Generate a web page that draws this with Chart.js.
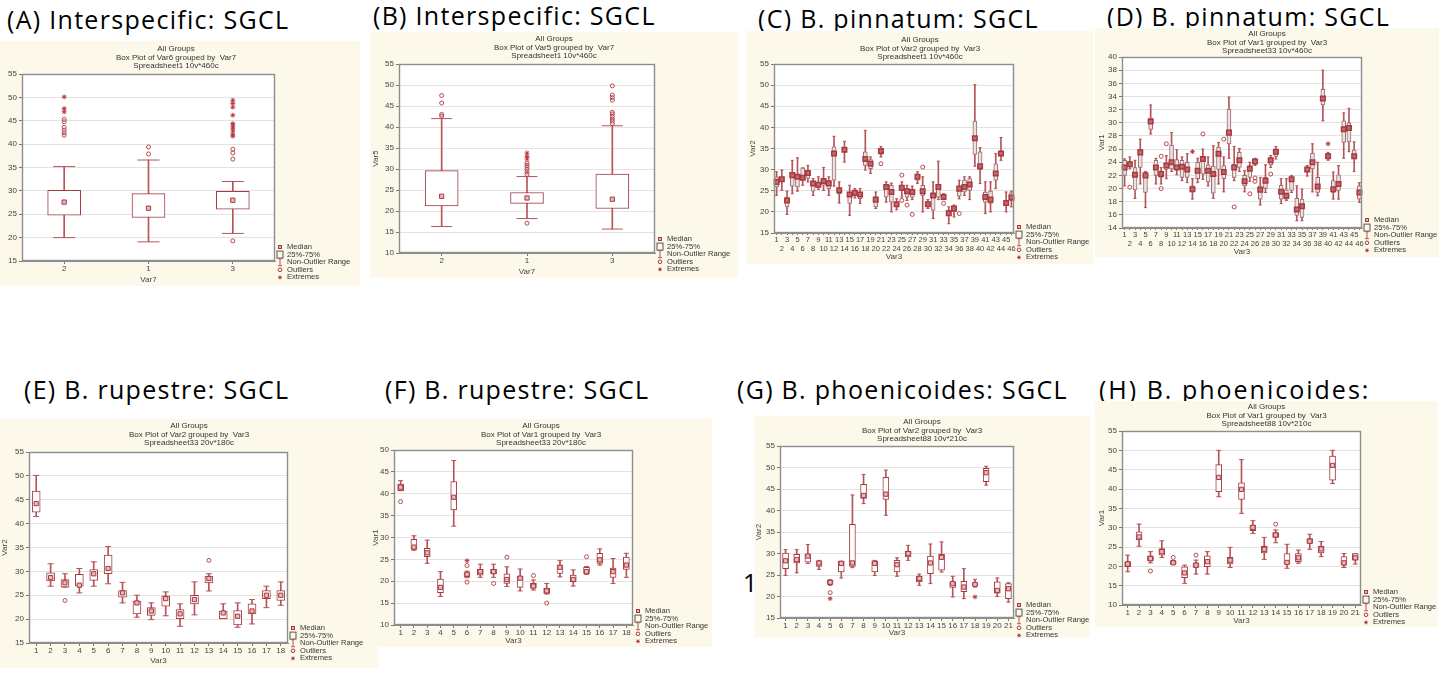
<!DOCTYPE html>
<html>
<head>
<meta charset="utf-8">
<title>SGCL box plots</title>
<script src="https://cdn.jsdelivr.net/npm/chart.js@4.4.1/dist/chart.umd.min.js"></script>
<style>
  body { margin: 0; width: 1439px; height: 675px; overflow: hidden; position: relative; background: #fff; }
  .head { position: absolute; font-family: "Open Sans", Lato, sans-serif; font-size: 25px; line-height: 25px;
          letter-spacing: 1.3px; color: #000; white-space: nowrap; }
  canvas { position: absolute; }
</style>
</head>
<body>
<div class="head" style="left:7px;top:7px">(A) Interspecific: SGCL</div>
<div class="head" style="left:373px;top:3px">(B) Interspecific: SGCL</div>
<div class="head" style="left:758px;top:6px">(C) B. pinnatum: SGCL</div>
<div class="head" style="left:1107px;top:4px">(D) B. pinnatum: SGCL</div>
<div class="head" style="left:24px;top:377px">(E) B. rupestre: SGCL</div>
<div class="head" style="left:385px;top:377px">(F) B. rupestre: SGCL</div>
<div class="head" style="left:737px;top:377px">(G) B. phoenicoides: SGCL</div>
<div class="head" style="left:1099px;top:377px;letter-spacing:2px">(H) B. phoenicoides:</div>
<div class="head" style="left:743px;top:570px">1</div>

<script>
// ---- (A) Var6 by Var7 ----
const aCats = ['2', '1', '3'];
const aLo  = [20.0, 19.1, 20.9];
const aQ1  = [24.8, 24.3, 26.1];
const aMed = [27.6, 26.3, 28.0];
const aQ3  = [30.1, 29.4, 29.9];
const aHi  = [35.2, 36.6, 32.0];
const aOut = [['2', 45.3], ['2', 44.8], ['2', 43.6], ['2', 43.0], ['2', 42.4], ['2', 41.9],
              ['1', 39.4], ['1', 37.9], ['3', 38.9], ['3', 38.1], ['3', 36.8], ['3', 19.3]];
const aExt = [['2', 50.1], ['2', 47.6], ['2', 46.9], ['3', 49.4], ['3', 48.7], ['3', 47.9], ['3', 46.2],
              ['3', 44.4], ['3', 43.9], ['3', 43.4], ['3', 42.8], ['3', 42.1], ['3', 41.7]];
const aTicks = [15, 20, 25, 30, 35, 40, 45, 50, 55];

// ---- (B) Var5 by Var7 ----
const bCats = ['2', '1', '3'];
const bLo  = [16.3, 18.2, 15.7];
const bQ1  = [21.2, 21.8, 20.6];
const bMed = [23.5, 23.1, 22.8];
const bQ3  = [29.6, 24.4, 28.8];
const bHi  = [42.0, 28.2, 40.3];
const bOut = [['2', 47.5], ['2', 45.7], ['2', 43.0], ['2', 42.6], ['1', 17.1], ['1', 28.7], ['1', 29.3],
              ['1', 29.9], ['1', 30.4], ['1', 30.9], ['1', 31.4], ['3', 49.8], ['3', 47.6], ['3', 47.0],
              ['3', 46.4], ['3', 43.5], ['3', 43.1], ['3', 42.5], ['3', 41.9], ['3', 41.4], ['3', 40.8]];
const bExt = [['1', 32.4], ['1', 33.0], ['1', 33.8]];
const bTicks = [10, 15, 20, 25, 30, 35, 40, 45, 50, 55];

// ---- (C) B. pinnatum Var2 by Var3 ----
const cCats = Array.from({ length: 46 }, (_, i) => String(i + 1));
const cLo  = [23.9, 25.1, 19.4, 24.3, 24.9, 26.3, 27.1, 23.9, 25.3, 25.1, 23.9, 26.1, 22.1, 31.8, 19.2, 23.3,
              22.0, 29.9, 29.1, 20.8, 33.0, 22.3, 20.0, 20.5, 23.5, 22.7, 22.9, 26.7, 20.0, 20.8, 18.4, 22.9,
              22.9, 17.2, 18.8, 23.1, 23.9, 22.9, 30.8, 26.7, 19.6, 20.0, 25.5, 32.2, 20.0, 21.2];
const cQ1  = [25.9, 27.3, 21.2, 26.1, 25.9, 27.5, 27.9, 24.9, 25.9, 26.3, 25.5, 27.5, 24.3, 34.2, 22.0, 23.9,
              23.1, 31.0, 30.2, 21.2, 33.6, 23.5, 22.3, 21.2, 25.1, 23.5, 23.5, 27.5, 23.9, 21.2, 20.4, 23.5,
              23.1, 19.2, 20.0, 23.7, 24.7, 25.1, 33.6, 30.0, 22.3, 22.0, 27.5, 33.2, 21.6, 22.7];
const cMed = [27.1, 27.7, 22.7, 28.7, 28.3, 28.1, 29.2, 26.7, 26.4, 27.3, 26.7, 33.8, 25.1, 34.7, 24.1, 24.5,
              24.1, 32.5, 31.4, 22.9, 34.4, 25.9, 24.7, 21.8, 25.7, 24.9, 24.7, 28.3, 24.9, 21.8, 23.9, 25.9,
              23.5, 19.7, 20.8, 25.5, 25.9, 26.5, 37.4, 30.8, 23.5, 22.9, 29.1, 33.8, 22.1, 23.4];
const cQ3  = [28.3, 28.3, 23.5, 29.1, 28.7, 30.4, 29.8, 27.3, 26.8, 27.9, 27.5, 35.4, 25.7, 35.2, 24.5, 24.9,
              24.7, 34.2, 32.4, 23.5, 34.7, 26.3, 26.3, 22.3, 26.3, 25.5, 25.3, 28.7, 26.3, 22.3, 24.3, 26.3,
              23.9, 20.4, 21.2, 25.9, 27.5, 27.9, 41.5, 34.2, 24.7, 24.9, 31.4, 34.2, 22.6, 24.5];
const cHi  = [29.5, 29.9, 24.9, 32.2, 32.8, 30.4, 31.0, 27.9, 28.3, 30.5, 28.3, 37.9, 27.1, 36.7, 26.3, 25.5,
              25.5, 39.3, 33.0, 24.7, 35.5, 27.1, 26.8, 23.1, 27.1, 26.3, 26.1, 29.5, 28.3, 22.9, 27.1, 32.0,
              24.3, 21.2, 21.6, 27.5, 28.3, 28.3, 50.1, 35.2, 27.1, 27.1, 33.8, 37.6, 24.7, 24.9];
const cOut = [['21', 31.4], ['25', 28.7], ['25', 22.7], ['26', 21.6], ['27', 19.4], ['29', 30.6], ['33', 22.0], ['36', 19.6]];
const cExt = [];
const cTicks = [15, 20, 25, 30, 35, 40, 45, 50, 55];

// ---- (D) B. pinnatum Var1 by Var3 ----
const dCats = Array.from({ length: 46 }, (_, i) => String(i + 1));
const dLo  = [20.4, 23.0, 18.5, 20.7, 17.1, 28.3, 20.7, 20.7, 21.5, 22.6, 22.1, 21.2, 20.9, 18.4, 20.9, 21.4,
              20.4, 18.5, 20.7, 19.5, 24.6, 21.2, 22.6, 19.5, 21.1, 23.5, 17.5, 19.4, 23.2, 24.5, 17.7, 18.2,
              19.4, 15.1, 15.1, 21.9, 19.5, 18.9, 30.3, 24.3, 18.4, 18.4, 24.6, 25.6, 22.6, 17.9];
const dQ1  = [22.0, 23.4, 19.8, 23.2, 19.4, 29.0, 22.0, 21.7, 22.9, 23.0, 23.0, 21.7, 21.7, 19.5, 21.5, 22.2,
              21.0, 19.3, 22.9, 21.5, 26.8, 21.7, 23.2, 20.4, 21.7, 23.7, 18.4, 20.0, 23.6, 24.9, 18.4, 18.4,
              19.7, 15.9, 15.6, 22.5, 23.0, 19.4, 32.7, 24.6, 19.4, 19.7, 27.0, 27.1, 24.5, 18.4];
const dMed = [23.2, 23.7, 22.1, 25.5, 22.0, 30.2, 23.2, 22.2, 23.5, 24.0, 23.2, 23.3, 22.9, 19.9, 22.7, 24.5,
              22.7, 22.2, 25.3, 22.5, 28.5, 23.2, 24.3, 21.1, 23.0, 24.1, 19.8, 21.2, 24.3, 25.6, 19.5, 18.9,
              21.4, 16.8, 17.3, 22.9, 24.0, 20.3, 33.7, 24.9, 19.9, 20.7, 29.0, 29.2, 24.9, 19.4];
const dQ3  = [24.3, 24.1, 23.2, 25.9, 22.2, 30.7, 24.3, 22.7, 23.8, 26.6, 24.4, 24.3, 24.0, 20.4, 24.0, 24.6,
              23.6, 23.4, 26.3, 23.5, 32.1, 23.7, 25.5, 22.0, 23.5, 24.4, 20.4, 21.7, 24.6, 25.9, 20.5, 19.8,
              21.7, 18.5, 18.4, 23.2, 25.4, 21.7, 35.1, 25.3, 21.2, 22.1, 30.3, 30.0, 25.9, 20.4];
const dHi  = [24.5, 24.8, 24.3, 27.5, 22.6, 32.7, 24.6, 23.2, 25.0, 28.5, 25.9, 24.8, 25.3, 21.5, 24.6, 26.0,
              24.8, 26.5, 27.0, 24.8, 33.9, 26.4, 26.1, 22.7, 24.0, 24.6, 21.7, 23.6, 25.0, 26.4, 21.5, 21.5,
              22.0, 20.4, 19.9, 23.5, 26.8, 24.0, 38.0, 25.5, 22.5, 23.5, 31.5, 32.2, 27.1, 20.9];
const dOut = [['2', 20.2], ['8', 24.9], ['8', 20.0], ['9', 26.8], ['16', 28.3], ['20', 27.5], ['22', 17.2],
              ['25', 19.2], ['26', 21.6], ['26', 21.1], ['29', 22.2]];
const dExt = [['14', 25.6], ['40', 26.8]];
const dTicks = [14, 16, 18, 20, 22, 24, 26, 28, 30, 32, 34, 36, 38, 40];

// ---- (E) B. rupestre Var2 by Var3 ----
const eCats = Array.from({ length: 18 }, (_, i) => String(i + 1));
const eLo  = [41.5, 26.9, 26.7, 25.5, 26.9, 27.4, 23.4, 20.4, 19.9, 20.7, 18.5, 20.9, 25.9, 20.1, 18.3, 19.0, 22.4, 22.9];
const eQ1  = [42.4, 28.0, 26.7, 26.9, 28.1, 29.5, 24.6, 21.1, 20.8, 22.7, 20.1, 23.2, 27.6, 20.1, 18.8, 21.1, 24.3, 23.9];
const eMed = [44.2, 28.7, 27.6, 27.1, 29.5, 30.6, 25.5, 23.4, 21.7, 24.3, 21.1, 24.1, 28.5, 21.3, 20.6, 21.7, 25.0, 25.0];
const eQ3  = [46.8, 29.7, 28.3, 29.4, 30.4, 33.4, 26.0, 23.8, 22.4, 24.9, 22.0, 25.0, 29.0, 21.7, 21.8, 23.2, 26.0, 26.0];
const eHi  = [50.1, 31.6, 29.5, 30.6, 32.0, 35.2, 27.7, 25.0, 23.4, 25.7, 23.2, 27.8, 29.5, 23.2, 23.4, 24.1, 26.9, 27.8];
const eOut = [['3', 23.9], ['13', 32.3]];
const eExt = [];
const eTicks = [15, 20, 25, 30, 35, 40, 45, 50, 55];

// ---- (F) B. rupestre Var1 by Var3 ----
const fCats = Array.from({ length: 18 }, (_, i) => String(i + 1));
const fLo  = [40.7, 27.1, 24.1, 16.5, 32.6, 20.8, 20.9, 20.9, 18.8, 17.8, 18.0, 17.1, 21.0, 18.9, 21.6, 23.7, 19.5, 20.9];
const fQ1  = [40.7, 27.3, 25.6, 17.4, 36.3, 21.0, 21.4, 21.7, 19.5, 18.6, 18.4, 17.2, 21.8, 19.9, 21.8, 24.1, 20.9, 22.7];
const fMed = [41.5, 27.8, 26.5, 18.6, 39.2, 21.6, 22.2, 22.2, 20.4, 20.7, 18.9, 17.8, 23.2, 20.4, 22.2, 24.9, 22.2, 23.7];
const fQ3  = [42.2, 29.6, 27.5, 20.5, 42.8, 22.0, 22.7, 22.7, 21.7, 21.2, 19.5, 18.4, 23.7, 21.4, 23.2, 26.4, 23.0, 25.5];
const fHi  = [43.0, 30.4, 29.4, 22.2, 47.6, 22.3, 23.9, 23.9, 23.3, 22.8, 20.3, 19.5, 24.7, 22.6, 23.4, 27.4, 25.2, 26.4];
const fOut = [['1', 38.2], ['6', 23.6], ['6', 19.8], ['8', 19.5], ['9', 25.5], ['11', 21.3], ['12', 15.0], ['15', 25.6]];
const fExt = [['6', 24.7]];
const fTicks = [10, 15, 20, 25, 30, 35, 40, 45, 50];

// ---- (G) B. phoenicoides Var2 by Var3 ----
const gCats = Array.from({ length: 21 }, (_, i) => String(i + 1));
const gLo  = [24.9, 25.5, 27.7, 26.3, 22.6, 24.3, 26.7, 41.6, 24.9, 38.9, 24.7, 28.4, 22.6, 23.0, 25.7, 19.9, 19.5, 22.2, 45.9, 20.0, 18.7];
const gQ1  = [26.5, 27.8, 28.0, 27.0, 22.8, 25.7, 27.0, 42.8, 25.7, 42.6, 25.7, 29.2, 23.4, 25.3, 26.1, 22.1, 21.1, 22.5, 46.7, 20.8, 19.5];
const gMed = [28.3, 28.6, 29.4, 27.8, 23.3, 27.7, 27.8, 43.5, 27.7, 43.8, 27.4, 30.0, 24.2, 27.8, 29.1, 23.0, 22.2, 22.8, 48.8, 21.4, 21.8];
const gQ3  = [30.1, 29.8, 29.8, 28.3, 23.8, 28.2, 36.8, 46.1, 28.3, 47.7, 28.4, 30.5, 24.7, 29.4, 29.8, 23.4, 23.5, 23.2, 49.8, 23.4, 23.0];
const gHi  = [30.9, 30.9, 32.1, 28.4, 23.9, 28.2, 43.6, 48.4, 28.4, 49.4, 29.0, 31.9, 25.2, 32.2, 32.7, 24.7, 26.5, 24.0, 50.3, 24.3, 23.2];
const gOut = [['5', 20.9]];
const gExt = [['5', 19.5], ['18', 19.9]];
const gTicks = [15, 20, 25, 30, 35, 40, 45, 50, 55];

// ---- (H) B. phoenicoides Var1 by Var3 ----
const hCats = Array.from({ length: 21 }, (_, i) => String(i + 1));
const hLo  = [18.6, 25.2, 20.9, 22.3, 20.5, 15.6, 18.0, 18.0, 38.0, 19.7, 33.7, 28.5, 21.8, 26.1, 19.5, 20.8, 24.4, 22.5, 41.4, 19.7, 20.6];
const hQ1  = [19.9, 26.8, 21.4, 22.9, 20.6, 17.1, 19.7, 19.9, 39.3, 20.6, 37.3, 29.2, 23.5, 27.5, 20.6, 21.2, 25.9, 23.5, 42.3, 20.3, 21.6];
const hMed = [20.6, 27.6, 22.0, 23.8, 20.9, 18.3, 20.3, 21.2, 43.0, 21.6, 39.9, 30.1, 24.4, 28.1, 21.0, 22.2, 26.5, 24.5, 46.1, 20.9, 22.2];
const hQ3  = [21.2, 28.9, 22.7, 24.6, 21.4, 19.9, 20.9, 22.7, 46.3, 22.3, 41.6, 30.7, 25.2, 28.7, 23.3, 23.3, 27.2, 25.2, 48.5, 22.5, 23.3];
const hHi  = [22.9, 30.9, 23.8, 26.6, 21.5, 20.3, 21.6, 23.8, 50.0, 24.9, 47.6, 31.8, 27.5, 29.4, 25.7, 24.2, 28.3, 26.4, 50.0, 23.3, 23.3];
const hOut = [['3', 18.8], ['5', 22.3], ['7', 22.9], ['14', 30.9]];
const hExt = [];
const hTicks = [10, 15, 20, 25, 30, 35, 40, 45, 50, 55];

const FONT = '"Liberation Sans", Arial, sans-serif';
const RED = '#a53a40';
const WHISKER = '#b5555b';
const CREAM = '#fcf8ea';
const KEYS = ['Median', '25%-75%', 'Non-Outlier Range', 'Outliers', 'Extremes'];

Chart.defaults.font.family = FONT;

// cream page, white plot area, grey frame and the key on the right
const frameAndKey = {
  id: 'frameAndKey',
  beforeDraw(chart) {
    const { ctx, chartArea: a } = chart;
    ctx.save();
    ctx.fillStyle = CREAM;
    ctx.fillRect(0, 0, chart.width, chart.height);
    ctx.fillStyle = '#fff';
    ctx.fillRect(a.left, a.top, a.right - a.left, a.bottom - a.top);
    ctx.restore();
  },
  afterDraw(chart, args, opts) {
    const { ctx, chartArea: a } = chart;
    ctx.save();
    ctx.strokeStyle = '#8e8e8e';
    ctx.lineWidth = 1.4;
    ctx.strokeRect(Math.round(a.left) + 0.5, Math.round(a.top) + 0.5,
      Math.round(a.right - a.left) - 1, Math.round(a.bottom - a.top) - 1);

    const ix = a.right + 5, tx = a.right + 12;
    ctx.font = '7.6px ' + FONT;
    ctx.textBaseline = 'middle';
    ctx.lineWidth = 1;
    KEYS.forEach((k, i) => {
      const y = a.bottom - opts.top + i * 7.6;
      ctx.strokeStyle = RED;
      if (i === 0) {
        ctx.fillStyle = '#e8b4b4';
        ctx.fillRect(ix - 1.5, y - 1.5, 3, 3);
        ctx.strokeRect(ix - 1.5, y - 1.5, 3, 3);
      } else if (i === 1) {
        ctx.strokeStyle = '#555';
        ctx.strokeRect(ix - 3, y - 3.5, 6, 7);
      } else if (i === 2) {
        ctx.strokeStyle = WHISKER;
        ctx.beginPath();
        ctx.moveTo(ix, y - 3.5); ctx.lineTo(ix, y + 3.5);
        ctx.moveTo(ix - 2, y - 3.5); ctx.lineTo(ix + 2, y - 3.5);
        ctx.moveTo(ix - 2, y + 3.5); ctx.lineTo(ix + 2, y + 3.5);
        ctx.stroke();
      } else if (i === 3) {
        ctx.beginPath();
        ctx.arc(ix, y, 1.8, 0, Math.PI * 2);
        ctx.stroke();
      } else {
        ctx.beginPath();
        ctx.moveTo(ix - 1.8, y); ctx.lineTo(ix + 1.8, y);
        ctx.moveTo(ix, y - 1.8); ctx.lineTo(ix, y + 1.8);
        ctx.moveTo(ix - 1.3, y - 1.3); ctx.lineTo(ix + 1.3, y + 1.3);
        ctx.moveTo(ix - 1.3, y + 1.3); ctx.lineTo(ix + 1.3, y - 1.3);
        ctx.stroke();
      }
      ctx.fillStyle = '#333';
      ctx.fillText(k, tx, y);
    });
    ctx.restore();
  }
};

function boxPlot(p) {
  const canvas = document.createElement('canvas');
  canvas.width = p.w;
  canvas.height = p.h;
  canvas.style.left = p.x + 'px';
  canvas.style.top = p.y + 'px';
  document.body.appendChild(canvas);

  const [pl, pt, pr, pb] = p.plot;
  const tLine = 8.4;
  const aLine = 9.6;
  const s = p.series;
  const pairs = (lo, hi) => s.cats.map((c, i) => [lo[i], hi[i]]);
  const pts = vals => s.cats.map((c, i) => ({ x: c, y: vals[i] }));
  const marks = list => list.map(([c, v]) => ({ x: c, y: v }));
  const ticks = s.ticks;
  const tickFont = { size: p.tickSize || 8 };

  new Chart(canvas, {
    type: 'bar',
    data: {
      labels: s.cats,
      datasets: [
        { type: 'bar', data: pairs(s.lo, s.hi), barThickness: 1, grouped: false,
          backgroundColor: WHISKER, borderWidth: 0, order: 6 },
        { type: 'bar', data: pairs(s.q1, s.q3), barThickness: p.boxW, grouped: false,
          backgroundColor: p.boxFill, borderColor: p.boxLine, borderWidth: 1, borderSkipped: false, order: 5 },
        { type: 'scatter', data: pts(s.lo).concat(pts(s.hi)), pointStyle: 'line', pointRadius: p.capW / 2,
          borderColor: WHISKER, borderWidth: 1, order: 4 },
        { type: 'scatter', data: pts(s.med), pointStyle: 'rect', pointRadius: p.medR,
          backgroundColor: p.medFill, borderColor: RED, borderWidth: p.medLine, order: 1 },
        { type: 'scatter', data: marks(s.out), pointStyle: 'circle', pointRadius: 2,
          backgroundColor: 'rgba(0,0,0,0)', borderColor: '#b84a50', borderWidth: 1, order: 2 },
        { type: 'scatter', data: marks(s.ext), pointStyle: 'star', pointRadius: 2.4,
          borderColor: '#b8383e', borderWidth: 1, order: 2 }
      ]
    },
    options: {
      responsive: false,
      animation: false,
      events: [],
      layout: { padding: 0 },
      plugins: {
        legend: { display: false },
        tooltip: { enabled: false },
        title: {
          display: true,
          text: p.title,
          color: '#333',
          font: { size: 8, weight: 'normal', lineHeight: 1.05 },
          padding: { top: p.titleY - p.y - tLine / 2, bottom: pt - p.titleY - 2.5 * tLine }
        },
        frameAndKey: { top: p.keyTop }
      },
      scales: {
        x: {
          type: 'category',
          offset: true,
          grid: { display: true, drawOnChartArea: false, offset: false, tickLength: p.tickLen || 3, color: '#777' },
          border: { color: '#8e8e8e' },
          ticks: {
            autoSkip: false, maxRotation: 0, minRotation: 0, padding: 0, color: '#444', font: tickFont,
            callback(v, i) {
              const lab = this.getLabelForValue(v);
              return p.twoRows && i % 2 ? ['', lab] : lab;
            }
          },
          title: { display: true, text: p.xTitle, color: '#444', font: { size: 8 },
                   padding: { top: 0, bottom: Math.max(0, p.y + p.h - p.xTitleY - aLine / 2) } },
          afterFit: sc => { sc.height = p.y + p.h - pb; }
        },
        y: {
          min: ticks[0],
          max: ticks[ticks.length - 1],
          grid: { color: '#e3e3e3', tickColor: '#777', tickLength: 3 },
          border: { color: '#8e8e8e' },
          ticks: { stepSize: ticks[1] - ticks[0], padding: 2, color: '#444', font: { size: 8 } },
          title: { display: true, text: p.yTitle, color: '#444', font: { size: 8 },
                   padding: { top: Math.max(0, p.yTitleX - p.x - aLine / 2), bottom: 0 } },
          afterFit: sc => { sc.width = pl - p.x; }
        },
        keySpace: {
          type: 'linear',
          position: 'right',
          grid: { display: false },
          border: { display: false },
          ticks: { display: false },
          afterFit: sc => { sc.width = p.x + p.w - pr; }
        }
      }
    },
    plugins: [frameAndKey]
  });
}

const wide = { boxFill: '#fff', boxLine: RED, medFill: '#eab9b9', medLine: 1, medR: 3 };
const dense = { boxFill: '#ebe3e3', boxLine: '#9c6a6c', medFill: '#c9676b', medLine: 1.5, medR: 3.2 };

boxPlot({ ...wide, x: -8, y: 41, w: 368, h: 245, plot: [22, 74, 275, 261],
  titleY: 49, yTitleX: -2, xTitleY: 280, keyTop: 14, boxW: 33, capW: 22,
  title: ['All Groups', 'Box Plot of Var6 grouped by  Var7', 'Spreadsheet1 10v*460c'], xTitle: 'Var7', yTitle: 'Var6',
  series: { cats: aCats, lo: aLo, q1: aQ1, med: aMed, q3: aQ3, hi: aHi, out: aOut, ext: aExt, ticks: aTicks } });

boxPlot({ ...wide, x: 370, y: 32, w: 368, h: 246, plot: [399, 64, 655, 253],
  titleY: 39, yTitleX: 376, xTitleY: 272, keyTop: 14, boxW: 33, capW: 21,
  title: ['All Groups', 'Box Plot of Var5 grouped by  Var7', 'Spreadsheet1 10v*460c'], xTitle: 'Var7', yTitle: 'Var5',
  series: { cats: bCats, lo: bLo, q1: bQ1, med: bMed, q3: bQ3, hi: bHi, out: bOut, ext: bExt, ticks: bTicks } });

boxPlot({ ...dense, x: 747, y: 31, w: 346, h: 233, plot: [774, 64, 1014, 233],
  titleY: 40, yTitleX: 753, xTitleY: 257, keyTop: 6, boxW: 4, capW: 3, twoRows: true, tickSize: 7.5, tickLen: 2,
  title: ['All Groups', 'Box Plot of Var2 grouped by  Var3', 'Spreadsheet1 10v*460c'], xTitle: 'Var3', yTitle: 'Var2',
  series: { cats: cCats, lo: cLo, q1: cQ1, med: cMed, q3: cQ3, hi: cHi, out: cOut, ext: cExt, ticks: cTicks } });

boxPlot({ ...dense, x: 1095, y: 28, w: 344, h: 229, plot: [1122, 57, 1362, 228],
  titleY: 34, yTitleX: 1102, xTitleY: 252, keyTop: 8, boxW: 4, capW: 3, twoRows: true, tickSize: 7.5, tickLen: 2,
  title: ['All Groups', 'Box Plot of Var1 grouped by  Var3', 'Spreadsheet33 10v*460c'], xTitle: 'Var3', yTitle: 'Var1',
  series: { cats: dCats, lo: dLo, q1: dQ1, med: dMed, q3: dQ3, hi: dHi, out: dOut, ext: dExt, ticks: dTicks } });

boxPlot({ ...wide, x: 0, y: 419, w: 378, h: 249, plot: [29, 452, 288, 643],
  titleY: 426, yTitleX: 5, xTitleY: 661, keyTop: 15, boxW: 8, capW: 6,
  title: ['All Groups', 'Box Plot of Var2 grouped by  Var3', 'Spreadsheet33 20v*180c'], xTitle: 'Var3', yTitle: 'Var2',
  series: { cats: eCats, lo: eLo, q1: eQ1, med: eMed, q3: eQ3, hi: eHi, out: eOut, ext: eExt, ticks: eTicks } });

boxPlot({ ...wide, x: 370, y: 419, w: 342, h: 228, plot: [394, 450, 633, 625],
  titleY: 426, yTitleX: 376, xTitleY: 641, keyTop: 14, boxW: 6, capW: 5,
  title: ['All Groups', 'Box Plot of Var1 grouped by  Var3', 'Spreadsheet33 20v*180c'], xTitle: 'Var3', yTitle: 'Var1',
  series: { cats: fCats, lo: fLo, q1: fQ1, med: fMed, q3: fQ3, hi: fHi, out: fOut, ext: fExt, ticks: fTicks } });

boxPlot({ ...wide, x: 754, y: 416, w: 336, h: 222, plot: [780, 446, 1014, 618],
  titleY: 422, yTitleX: 758, xTitleY: 634, keyTop: 13, boxW: 6, capW: 4,
  title: ['All Groups', 'Box Plot of Var2 grouped by  Var3', 'Spreadsheet88 10v*210c'], xTitle: 'Var3', yTitle: 'Var2',
  series: { cats: gCats, lo: gLo, q1: gQ1, med: gMed, q3: gQ3, hi: gHi, out: gOut, ext: gExt, ticks: gTicks } });

boxPlot({ ...wide, x: 1095, y: 401, w: 343, h: 226, plot: [1122, 431, 1361, 605],
  titleY: 407, yTitleX: 1102, xTitleY: 621, keyTop: 13, boxW: 6, capW: 5,
  title: ['All Groups', 'Box Plot of Var1 grouped by  Var3', 'Spreadsheet88 10v*210c'], xTitle: 'Var3', yTitle: 'Var1',
  series: { cats: hCats, lo: hLo, q1: hQ1, med: hMed, q3: hQ3, hi: hHi, out: hOut, ext: hExt, ticks: hTicks } });
</script>
</body>
</html>
